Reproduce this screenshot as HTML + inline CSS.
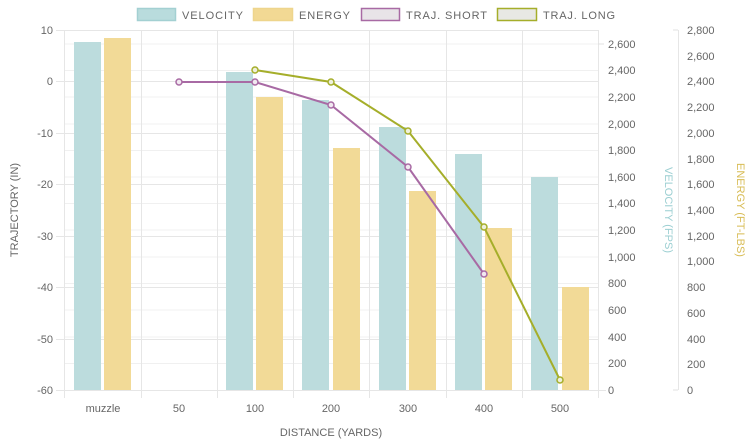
<!DOCTYPE html>
<html><head><meta charset="utf-8"><style>
html,body{margin:0;padding:0;background:#fff;}
svg{display:block;font-family:"Liberation Sans",sans-serif;}
text{fill:#666;font-size:11px;}
</style></head><body>
<svg width="754" height="447" xmlns="http://www.w3.org/2000/svg">
<!-- legend -->
<rect x="137.5" y="8.5" width="38" height="12" fill="#b9dcdd" stroke="#a3d0d2" stroke-width="1.5"/>
<text x="182" y="19" textLength="61">VELOCITY</text>
<rect x="253.5" y="8.5" width="39" height="12" fill="#f2d994" stroke="#eed58c" stroke-width="1.5"/>
<text x="299" y="19" textLength="51">ENERGY</text>
<rect x="361.5" y="8.5" width="38" height="12" fill="#e8e4e8" stroke="#a86aa4" stroke-width="1.5"/>
<text x="406" y="19" textLength="81">TRAJ. SHORT</text>
<rect x="497.5" y="8.5" width="39" height="12" fill="#e8e8e4" stroke="#a5ae2a" stroke-width="1.5"/>
<text x="543" y="19" textLength="72">TRAJ. LONG</text>
<!-- grid -->
<g stroke="#e6e6e6" stroke-width="1">
<line x1="56" y1="30.5" x2="598" y2="30.5"/>
<line x1="56" y1="81.5" x2="598" y2="81.5"/>
<line x1="56" y1="133.5" x2="598" y2="133.5"/>
<line x1="56" y1="184.5" x2="598" y2="184.5"/>
<line x1="56" y1="236.5" x2="598" y2="236.5"/>
<line x1="56" y1="287.5" x2="598" y2="287.5"/>
<line x1="56" y1="339.5" x2="598" y2="339.5"/>
<line x1="56" y1="390.5" x2="606" y2="390.5"/>
<g stroke="#f0f0f0">
<line x1="64" y1="44" x2="598" y2="44"/><line x1="64" y1="70.5" x2="598" y2="70.5"/>
<line x1="64" y1="97" x2="598" y2="97"/><line x1="64" y1="124" x2="598" y2="124"/>
<line x1="64" y1="150.5" x2="598" y2="150.5"/><line x1="64" y1="177" x2="598" y2="177"/>
<line x1="64" y1="203.5" x2="598" y2="203.5"/><line x1="64" y1="230" x2="598" y2="230"/>
<line x1="64" y1="257" x2="598" y2="257"/><line x1="64" y1="283.5" x2="598" y2="283.5"/>
<line x1="64" y1="310" x2="598" y2="310"/><line x1="64" y1="337" x2="598" y2="337"/>
<line x1="64" y1="363.5" x2="598" y2="363.5"/>
</g>
<line x1="64.5" y1="30" x2="64.5" y2="398"/>
<line x1="141.5" y1="30" x2="141.5" y2="398"/>
<line x1="217.5" y1="30" x2="217.5" y2="398"/>
<line x1="293.5" y1="30" x2="293.5" y2="398"/>
<line x1="369.5" y1="30" x2="369.5" y2="398"/>
<line x1="446.5" y1="30" x2="446.5" y2="398"/>
<line x1="522.5" y1="30" x2="522.5" y2="398"/>
<line x1="598.5" y1="30" x2="598.5" y2="398"/>
<line x1="678.5" y1="30" x2="678.5" y2="390"/>
</g>
<!-- bars velocity -->
<g fill="#bcdcdd">
<rect x="74" y="42" width="27" height="348"/>
<rect x="226" y="72" width="27" height="318"/>
<rect x="302" y="100" width="27" height="290"/>
<rect x="379" y="127" width="27" height="263"/>
<rect x="455" y="154" width="27" height="236"/>
<rect x="531" y="177" width="27" height="213"/>
</g>
<g fill="#f2da97">
<rect x="104" y="38" width="27" height="352"/>
<rect x="256" y="97" width="27" height="293"/>
<rect x="333" y="148" width="27" height="242"/>
<rect x="409" y="191" width="27" height="199"/>
<rect x="485" y="228" width="27" height="162"/>
<rect x="562" y="287" width="27" height="103"/>
</g>
<!-- lines -->
<g fill="none" stroke-width="2">
<polyline stroke="#a86aa4" points="179,82 255,82 331,105 408,167 484,274"/>
<polyline stroke="#a5ae2a" points="255,70 331,82 408,131 484,227 560,380"/>
</g>
<g fill="#f1e9f0" stroke="#a86aa4" stroke-width="1.5">
<circle cx="179" cy="82" r="3"/><circle cx="255" cy="82" r="3"/><circle cx="331" cy="105" r="3"/><circle cx="408" cy="167" r="3"/><circle cx="484" cy="274" r="3"/>
</g>
<g fill="#eef0dc" stroke="#a5ae2a" stroke-width="1.5">
<circle cx="255" cy="70" r="3"/><circle cx="331" cy="82" r="3"/><circle cx="408" cy="131" r="3"/><circle cx="484" cy="227" r="3"/><circle cx="560" cy="380" r="3"/>
</g>
<!-- left ticks -->
<g text-anchor="end">
<text x="53" y="34">10</text><text x="53" y="85">0</text><text x="53" y="137">-10</text>
<text x="53" y="188">-20</text><text x="53" y="240">-30</text><text x="53" y="291">-40</text>
<text x="53" y="343">-50</text><text x="53" y="394">-60</text>
</g>
<!-- velocity ticks -->
<g stroke="#e0e0e0"><line x1="598" y1="44" x2="604" y2="44"/></g>
<g>
<text x="608" y="48">2,600</text><text x="608" y="74">2,400</text><text x="608" y="101">2,200</text>
<text x="608" y="128">2,000</text><text x="608" y="154">1,800</text><text x="608" y="181">1,600</text>
<text x="608" y="207">1,400</text><text x="608" y="234">1,200</text><text x="608" y="261">1,000</text>
<text x="608" y="287">800</text><text x="608" y="314">600</text><text x="608" y="341">400</text>
<text x="608" y="367">200</text><text x="608" y="394">0</text>
</g>
<!-- energy ticks -->
<g stroke="#e0e0e0">
<line x1="673" y1="30" x2="678" y2="30"/><line x1="673" y1="390" x2="678" y2="390"/>
</g>
<g>
<text x="687" y="34">2,800</text><text x="687" y="60">2,600</text><text x="687" y="85">2,400</text>
<text x="687" y="111">2,200</text><text x="687" y="137">2,000</text><text x="687" y="163">1,800</text>
<text x="687" y="188">1,600</text><text x="687" y="214">1,400</text><text x="687" y="240">1,200</text>
<text x="687" y="265">1,000</text><text x="687" y="291">800</text><text x="687" y="317">600</text>
<text x="687" y="343">400</text><text x="687" y="368">200</text><text x="687" y="394">0</text>
</g>
<!-- x labels -->
<g text-anchor="middle">
<text x="103" y="412">muzzle</text><text x="179" y="412">50</text><text x="255" y="412">100</text>
<text x="331" y="412">200</text><text x="408" y="412">300</text><text x="484" y="412">400</text>
<text x="560" y="412">500</text>
<text x="331" y="436">DISTANCE (YARDS)</text>
<text transform="translate(18,210) rotate(-90)">TRAJECTORY (IN)</text>
<text transform="translate(665,210) rotate(90)" style="fill:#9ccfd2">VELOCITY (FPS)</text>
<text transform="translate(737,210) rotate(90)" style="fill:#d8bc55">ENERGY (FT-LBS)</text>
</g>
</svg>
</body></html>
